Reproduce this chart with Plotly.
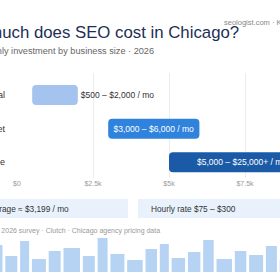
import plotly.graph_objects as go

W, H = 280, 280

# ---- data ----
categories = ["Local", "Mid-market", "Enterprise"]
low = [500, 3000, 5000]
high = [2000, 6000, 25000]
range_labels = ["$500 – $2,000 / mo", "$3,000 – $6,000 / mo", "$5,000 – $25,000+ / mo"]
tick_vals = [0, 2500, 5000, 7500, 10000]
tick_text = ["$0", "$2.5k", "$5k", "$7.5k", "$10k"]
stat_texts = ["Average ≈ $3,199 / mo", "Hourly rate $75 – $300"]
deco_heights = [27, 16, 31, 13, 21, 24, 16, 34, 18, 12, 23, 28, 14, 20, 32, 13, 21, 17, 26, 12]
deco_widths = [10, 12, 9, 14, 12, 16.5, 12, 10, 14, 15.5, 11.5, 9, 13.5, 12.5, 10.5, 15.5, 11.5, 14, 11, 12]

bar_colors = ["#a4c3ee", "#2f83dc", "#1b5aa6"]
FONT = "Arial, Liberation Sans, sans-serif"
AXIS_MAX = tick_vals[-1]


def px_x(p):
    return p / W


def px_y(p):
    return (H - p) / H


fig = go.Figure()

bar_text = [range_labels[0], range_labels[1], ""]
fig.add_trace(go.Bar(
    y=categories, x=[h - l for l, h in zip(low, high)], base=low,
    orientation="h", width=0.594,
    marker=dict(color=bar_colors, line=dict(width=0), cornerradius=4),
    text=bar_text,
    textposition=["outside", "inside", "none"],
    insidetextanchor="middle",
    textfont=dict(family=FONT, size=8.5, color=["#333333", "#ffffff", "#ffffff"]),
    constraintext="none", cliponaxis=True,
    hoverinfo="skip", xaxis="x", yaxis="y",
))

# label of the bar that runs past the axis: centred on its part up to the last tick
vis_mid = (low[2] + min(high[2], AXIS_MAX)) / 2
fig.add_annotation(xref="x", yref="y", x=vis_mid - 100, y=categories[2],
                   text=range_labels[2], showarrow=False,
                   xanchor="center", yanchor="middle",
                   font=dict(family=FONT, size=8.5, color="#ffffff"))

# decorative bars at the bottom
centers = []
pos = -7.5
for w in deco_widths:
    centers.append(pos + w / 2)
    pos += w + 2.8
fig.add_trace(go.Bar(
    x=centers, y=deco_heights, width=deco_widths,
    marker=dict(color="#b6d3f4", line=dict(width=0)),
    hoverinfo="skip", xaxis="x2", yaxis="y2",
))

fig.update_layout(
    width=W, height=H, margin=dict(l=0, r=0, t=0, b=0),
    paper_bgcolor="white", plot_bgcolor="white", showlegend=False,
    font=dict(family=FONT),
    barmode="overlay",
    xaxis=dict(domain=[px_x(17), 1], range=[0, 263 / 0.0304],
               tickvals=tick_vals, ticktext=tick_text,
               tickfont=dict(size=7, color="#999999"),
               showgrid=True, gridcolor="#ececec", gridwidth=1,
               zeroline=False, showline=False, ticks="", automargin=False),
    yaxis=dict(domain=[px_y(178), px_y(73)], range=[2.467, -0.654],
               tickfont=dict(size=9, color="#333333"), ticks="",
               ticklabelstandoff=11,
               showgrid=False, zeroline=False, showline=False, automargin=False),
    xaxis2=dict(domain=[0, 1], range=[0, W], visible=False, anchor="y2"),
    yaxis2=dict(domain=[px_y(272), px_y(236)], range=[0, 36], visible=False, anchor="x2"),
)

# stat boxes
boxes = [(-28, 128), (138, 330)]
for (x0, x1), txt in zip(boxes, stat_texts):
    fig.add_shape(type="rect", xref="paper", yref="paper",
                  x0=px_x(x0), x1=px_x(x1), y0=px_y(218), y1=px_y(199),
                  fillcolor="#e9f2fc", line=dict(width=0), layer="below")
    fig.add_annotation(xref="paper", yref="paper", x=px_x(x0 + 11), y=px_y(208.5),
                       xanchor="left", yanchor="middle", showarrow=False,
                       text=txt, font=dict(size=8.3, color="#333333", family=FONT))

ann = [
    ("How much does SEO cost in Chicago?", -52, 32, 16.8, "#1d2f55"),
    ("Est. monthly investment by business size · 2026", -44, 51, 9.2, "#666666"),
    ("Source: Q1 2026 survey · Clutch · Chicago agency pricing data", -38, 231, 7, "#999999"),
    ("seologist.com · Knowledge base", 222, 22, 7.5, "#888888"),
]
for txt, x, y, s, c in ann:
    fig.add_annotation(xref="paper", yref="paper", x=px_x(x), y=px_y(y),
                       xanchor="left", yanchor="middle", showarrow=False,
                       text=txt, font=dict(size=s, color=c, family=FONT))

fig.write_html("out.html")
